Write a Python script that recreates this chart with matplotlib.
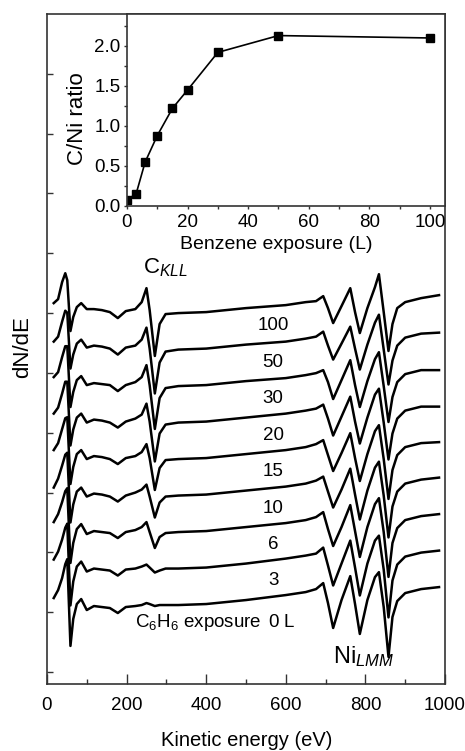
"""AES spectra of Ni during benzene exposure, with C/Ni ratio inset."""

import matplotlib
matplotlib.use("Agg")
import matplotlib.pyplot as plt
import numpy as np
from matplotlib import font_manager
from matplotlib.ticker import FormatStrFormatter, MultipleLocator

energy = [17, 28, 38, 46, 51, 59, 66, 75, 86, 100, 118, 138, 158, 178, 198,
          222, 238, 250, 258, 271, 283, 298, 330, 400, 500, 600, 650, 676,
          694, 706, 719, 740, 762, 774, 786, 805, 824, 834, 846, 858, 868,
          880, 900, 940, 985]

# dN/dE (arb. units) of each trace, relative to its own baseline
dn_0L = [6, 14, 26, 40, 45, -42, -15, 0, 5, -6, -2, -3, -4, -9, -3, -2, -1, 1, 0, -2, -1, -1, -1, 0,
         4, 9, 12, 15, 21, 1, -24, 4, 28, 0, -30, 4, 27, 32, -3, -53, -13, 3, 11, 15, 17]
dn_3L = [8, 16, 28, 40, 44, -38, -14, 1, 6, -4, -1, -2, -3, -8, -2, -1, 1, 3, 0, -5, -3, -1, -1, 0,
         4, 9, 12, 14, 20, 2, -18, 4, 27, 0, -28, 4, 27, 32, -2, -50, -13, 3, 11, 15, 17]
dn_6L = [9, 17, 29, 40, 43, -32, -12, 2, 7, -3, 0, -1, -2, -7, -1, 1, 4, 9, -1, -17, -6, -2, -1, 0,
         4, 8, 11, 14, 19, 2, -15, 4, 26, 0, -26, 4, 27, 33, -1, -46, -12, 3, 11, 15, 17]
dn_10L = [7, 16, 29, 40, 42, -28, -10, 3, 7, -2, 1, 0, -2, -7, -1, 2, 5, 10, -2, -23, -8, -2, -1, 0,
          4, 8, 11, 14, 18, 3, -13, 5, 26, 0, -25, 4, 27, 33, -1, -43, -12, 3, 11, 15, 17]
dn_15L = [8, 15, 29, 40, 41, -26, -9, 4, 8, -1, 2, 1, -1, -6, 0, 2, 6, 14, 0, -32, -10, -2, -1, 0,
          4, 8, 11, 14, 18, 3, -13, 5, 25, 0, -23, 4, 27, 33, -1, -41, -12, 3, 11, 15, 16]
dn_20L = [8, 14, 28, 40, 40, -24, -8, 4, 8, -1, 2, 1, -1, -6, 0, 3, 7, 18, 0, -40, -12, -3, -1, 0,
          4, 8, 11, 13, 17, 3, -14, 5, 25, 0, -22, 4, 27, 33, -1, -38, -12, 3, 11, 15, 15]
dn_30L = [8, 13, 28, 39, 39, -22, -7, 5, 9, 0, 2, 1, 0, -6, 0, 3, 8, 20, 0, -44, -13, -3, -1, 0,
          4, 7, 10, 12, 15, 3, -14, 5, 25, 0, -22, 4, 26, 33, -1, -37, -12, 3, 11, 15, 15]
dn_50L = [7, 12, 27, 38, 36, -20, -6, 5, 9, 1, 3, 2, 0, -6, 1, 3, 9, 21, 0, -45, -14, -3, -1, 0,
          4, 7, 10, 12, 17, 3, -11, 5, 22, 0, -21, 4, 26, 34, -1, -36, -12, 3, 11, 15, 16]
dn_100L = [9, 13, 30, 39, 32, -19, -5, 5, 9, 3, 3, 2, 0, -6, 1, 3, 10, 24, 2, -44, -12, -2, -1, 0,
           4, 7, 10, 11, 16, 4, -11, 6, 24, 0, -21, 4, 25, 38, 0, -39, -12, 4, 10, 14, 17]

trace_labels = ["0", "3", "6", "10", "15", "20", "30", "50", "100"]
traces = [dn_0L, dn_3L, dn_6L, dn_10L, dn_15L, dn_20L, dn_30L, dn_50L, dn_100L]

# inset: C/Ni ratio vs benzene exposure
exposure_L = [0, 3, 6, 10, 15, 20, 30, 50, 100]
cni_ratio = [0.08, 0.15, 0.55, 0.88, 1.22, 1.45, 1.92, 2.13, 2.10]

_names = {f.name for f in font_manager.fontManager.ttflist}
NARROW = "Liberation Sans Narrow" if "Liberation Sans Narrow" in _names else "Liberation Sans"
plt.rcParams["font.family"] = [NARROW, "DejaVu Sans"]
plt.rcParams["mathtext.fontset"] = "custom"
plt.rcParams["mathtext.rm"] = NARROW
plt.rcParams["mathtext.it"] = f"{NARROW}:italic"

SPINE = "#333333"
BASE, STEP = 68.2, 36.6


def style_axes(ax, size):
    for s in ax.spines.values():
        s.set_linewidth(1.2)
        s.set_color(SPINE)
    ax.tick_params(which="both", color=SPINE, width=1.0, labelsize=size)


fig = plt.figure(figsize=(4.65, 7.51), dpi=100)
ax = fig.add_axes([0.101, 0.0892, 0.856, 0.8922])
for i, (lab, vals) in enumerate(zip(trace_labels, traces)):
    off = BASE + i * STEP
    ax.plot(energy, np.asarray(vals) + off, color="black", lw=1.8, solid_joinstyle="round")
    ax.text(568, off - (23 if i == 0 else 18), lab, ha="center", va="baseline", fontsize=13.5)
ax.text(540, BASE - 23, "C$_6$H$_6$ exposure", ha="right", va="baseline", fontsize=13.5)
ax.text(593, BASE - 23, "L", ha="left", va="baseline", fontsize=13.5)
ax.text(241, 400, r"C$_{\mathit{KLL}}$", ha="left", va="baseline", fontsize=16)
ax.text(719, 9, r"Ni$_{\mathit{LMM}}$", ha="left", va="baseline", fontsize=17)

ax.set_xlim(0, 1000)
ax.set_ylim(-12, 660)
ax.xaxis.set_major_locator(MultipleLocator(200))
ax.xaxis.set_minor_locator(MultipleLocator(100))
ax.set_yticks(np.arange(0, 601, 60))
ax.set_yticklabels([])
style_axes(ax, 13.5)
ax.tick_params(which="both", direction="in")
ax.tick_params(axis="x", which="major", length=7, pad=9)
ax.tick_params(axis="x", which="minor", length=3.5)
ax.tick_params(axis="y", which="major", length=4)
ax.text(0.5025, -0.085, "Kinetic energy (eV)", transform=ax.transAxes, ha="center", va="center",
        fontsize=14.5, family="Liberation Sans")
ax.text(-0.06, 0.503, "dN/dE", transform=ax.transAxes, ha="center", va="center", rotation=90,
        fontsize=16, family="Liberation Sans")

ax_in = fig.add_axes([0.2731, 0.7257, 0.6839, 0.2557])
ax_in.plot(exposure_L, cni_ratio, "-s", color="black", ms=5.5, lw=1.2)
ax_in.set_xlim(0, 105)
ax_in.set_ylim(0, 2.4)
ax_in.xaxis.set_major_locator(MultipleLocator(20))
ax_in.xaxis.set_minor_locator(MultipleLocator(10))
ax_in.yaxis.set_major_locator(MultipleLocator(0.5))
ax_in.yaxis.set_minor_locator(MultipleLocator(0.25))
ax_in.yaxis.set_major_formatter(FormatStrFormatter("%.1f"))
style_axes(ax_in, 13.5)
ax_in.tick_params(which="both", direction="out", length=2.5)
ax_in.tick_params(axis="x", pad=3)
ax_in.tick_params(axis="y", pad=2)
ax_in.text(0.47, -0.203, "Benzene exposure (L)", transform=ax_in.transAxes, ha="center",
           va="center", fontsize=14, family="Liberation Sans")
ax_in.text(-0.157, 0.453, "C/Ni ratio", transform=ax_in.transAxes, ha="center", va="center",
           rotation=90, fontsize=16, family="Liberation Sans")

fig.savefig("out.png", dpi=100)
